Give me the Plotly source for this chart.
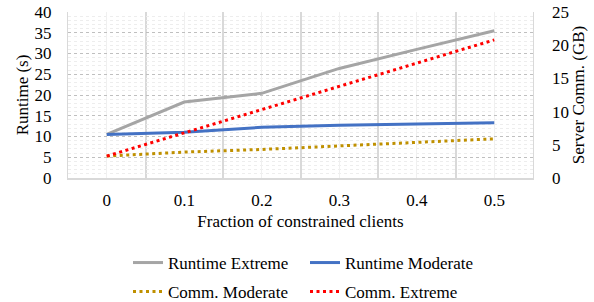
import plotly.graph_objects as go

fractions = [0, 0.1, 0.2, 0.3, 0.4, 0.5]
tick_labels = ["0", "0.1", "0.2", "0.3", "0.4", "0.5"]
runtime_extreme = [10.5, 18.3, 20.4, 26.4, 31.0, 35.5]
runtime_moderate = [10.5, 11.0, 12.2, 12.7, 13.0, 13.3]
comm_moderate = [3.3, 3.9, 4.3, 4.8, 5.3, 5.9]
comm_extreme = [3.3, 6.8, 10.4, 13.9, 17.3, 20.8]

FONT = "Liberation Serif"
FS = 17
W, H = 594, 302

fig = go.Figure()
fig.add_trace(go.Scatter(x=fractions, y=runtime_extreme, name="Runtime Extreme", mode="lines",
                         line=dict(color="#A5A5A5", width=3), legend="legend"))
fig.add_trace(go.Scatter(x=fractions, y=runtime_moderate, name="Runtime Moderate", mode="lines",
                         line=dict(color="#4472C4", width=3), legend="legend2"))
fig.add_trace(go.Scatter(x=fractions, y=comm_moderate, name="Comm. Moderate", mode="lines",
                         line=dict(color="#BF9000", width=3, dash="3px,3.5px"), yaxis="y2", legend="legend3"))
fig.add_trace(go.Scatter(x=fractions, y=comm_extreme, name="Comm. Extreme", mode="lines",
                         line=dict(color="#FF0000", width=3, dash="3px,3.5px"), yaxis="y2", legend="legend4"))

def leg(xpx, ypx):
    return dict(xref="container", yref="container", x=xpx / W, y=1 - ypx / H,
                xanchor="left", yanchor="middle", orientation="h",
                font=dict(size=FS, family=FONT, color="#000000"), bgcolor="rgba(0,0,0,0)",
                borderwidth=0, itemwidth=30)

fig.update_layout(
    width=W, height=H,
    margin=dict(l=68, r=61, t=12, b=124, autoexpand=False),
    paper_bgcolor="white", plot_bgcolor="white",
    font=dict(family=FONT, size=FS, color="#000000"),
    xaxis=dict(
        range=[-0.05, 0.55], tickmode="array", tickvals=fractions, ticktext=tick_labels,
        showgrid=True, gridcolor="#F0F0F0", gridwidth=1,
        minor=dict(tickmode="linear", tick0=-0.05, dtick=0.1, showgrid=True, gridcolor="#D9D9D9", gridwidth=1.5),
        showline=True, linecolor="#D9D9D9", linewidth=1.5, zeroline=False,
        ticks="", ticklabelstandoff=6,
        title=dict(text="Fraction of constrained clients", standoff=6,
                   font=dict(size=FS, family=FONT, color="#000000")),
        tickfont=dict(size=FS, family=FONT, color="#000000"),
    ),
    yaxis=dict(
        range=[0, 40], tickmode="linear", tick0=0, dtick=5,
        showgrid=True, gridcolor="#BFBFBF", griddash="dot", gridwidth=1,
        minor=dict(tickmode="linear", tick0=0, dtick=1, showgrid=True, gridcolor="#EDEDED", gridwidth=1),
        showline=True, linecolor="#D9D9D9", linewidth=1, mirror=True, zeroline=False,
        ticks="", tickfont=dict(size=FS, family=FONT, color="#000000"), ticklabelstandoff=12,
        title=dict(text="Runtime (s)", standoff=1, font=dict(size=FS, family=FONT, color="#000000")),
    ),
    yaxis2=dict(
        range=[0, 25], tickmode="linear", tick0=0, dtick=5, overlaying="y", side="right",
        showgrid=False, zeroline=False, ticks="", tickfont=dict(size=FS, family=FONT, color="#000000"),
        ticklabelstandoff=18,
        title=dict(text="Server Comm. (GB)", standoff=0, font=dict(size=FS, family=FONT, color="#000000")),
    ),
    legend=leg(128, 263),
    legend2=leg(305, 263),
    legend3=leg(128, 292),
    legend4=leg(305, 292),
    showlegend=True,
)

fig.write_html("out.html", config={"displayModeBar": False},
               post_script="document.body.style.margin='0';document.body.style.overflow='hidden';")
